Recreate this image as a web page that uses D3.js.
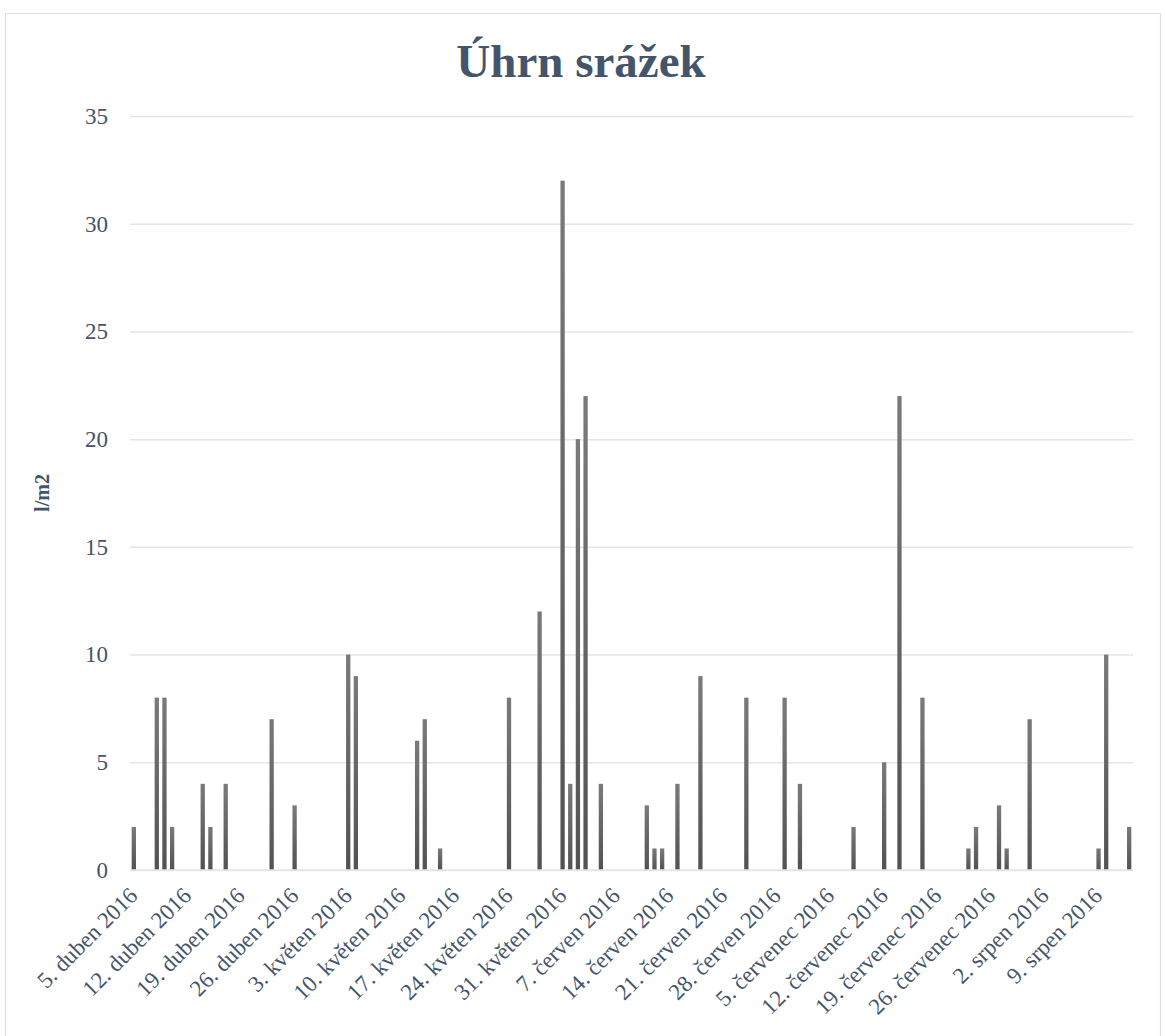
<!DOCTYPE html>
<html>
<head>
<meta charset="utf-8">
<script src="https://cdn.jsdelivr.net/npm/d3@7"></script>
<style>
  body { margin: 0; background: #fff; }
  text { font-family: "Liberation Serif", "Times New Roman", serif; }
</style>
</head>
<body>
<svg id="chart"></svg>
<script>
// srazky, denni uhrn
var startDay = "2016-04-05",
    endDay = "2016-08-13";

var rainDays = ["2016-04-05","2016-04-08","2016-04-09","2016-04-10","2016-04-14","2016-04-15","2016-04-17",
    "2016-04-23","2016-04-26","2016-05-03","2016-05-04","2016-05-12","2016-05-13","2016-05-15","2016-05-24",
    "2016-05-28","2016-05-31","2016-06-01","2016-06-02","2016-06-03","2016-06-05","2016-06-11","2016-06-12",
    "2016-06-13","2016-06-15","2016-06-18","2016-06-24","2016-06-29","2016-07-01","2016-07-08","2016-07-12",
    "2016-07-14","2016-07-17","2016-07-23","2016-07-24","2016-07-27","2016-07-28","2016-07-31","2016-08-09",
    "2016-08-10","2016-08-13"];
var rainValues = [2,8,8,2,4,2,4,
    7,3,10,9,6,7,1,8,
    12,32,4,20,22,4,3,1,
    1,4,9,8,8,4,2,5,
    22,8,1,2,3,1,7,1,
    10,2];

var yTicks = [0,5,10,15,20,25,30,35];
var monthNames = ["leden","únor","březen","duben","květen","červen","červenec","srpen","září","říjen","listopad","prosinec"];

var W = 1165, H = 1036;
var margin = {top: 116, right: 32, bottom: 166, left: 130},
    width = W - margin.left - margin.right,
    height = H - margin.top - margin.bottom;
var textColor = "#44546a", gridColor = "#e2e5ea";

var parse = d3.timeParse("%Y-%m-%d");
var allDays = d3.timeDay.range(parse(startDay), d3.timeDay.offset(parse(endDay), 1));
var rainMap = new Map(rainDays.map(function(d, i){ return [d, rainValues[i]]; }));
var fmtKey = d3.timeFormat("%Y-%m-%d");

var svg = d3.select("#chart").attr("width", W).attr("height", H);

var defs = svg.append("defs");
var grad = defs.append("linearGradient").attr("id", "barGrad")
    .attr("x1", 0).attr("y1", 0).attr("x2", 0).attr("y2", 1);
grad.append("stop").attr("offset", "0%").attr("stop-color", "#7a7a7a");
grad.append("stop").attr("offset", "100%").attr("stop-color", "#525252");

svg.append("rect")
    .attr("x", 5.5).attr("y", 13.5)
    .attr("width", W - 10).attr("height", H)
    .attr("fill", "#fff").attr("stroke", "#d9dde3");

svg.append("text")
    .attr("x", 581).attr("y", 77)
    .attr("text-anchor", "middle")
    .attr("font-size", "47px").attr("font-weight", "bold")
    .attr("fill", textColor)
    .text("Úhrn srážek");

var g = svg.append("g").attr("transform", "translate(" + margin.left + "," + margin.top + ")");

var x = d3.scaleBand()
    .domain(allDays.map(fmtKey))
    .range([0, width])
    .paddingInner(0.44)
    .paddingOuter(0.22);

var y = d3.scaleLinear().domain([0, 35]).range([height, 0]);

// mrizka
g.append("g")
    .call(d3.axisLeft(y).tickValues(yTicks).tickSize(-width).tickPadding(22))
    .call(function(a){
        a.select(".domain").remove();
        a.selectAll(".tick line").attr("stroke", gridColor).attr("stroke-width", 1.5);
        a.selectAll(".tick text").attr("fill", textColor).attr("font-size", "23px")
            .attr("font-family", "Liberation Serif, serif");
    });

g.selectAll("rect.bar")
    .data(allDays.filter(function(d){ return rainMap.has(fmtKey(d)); }))
    .enter().append("rect")
    .attr("class", "bar")
    .attr("x", function(d){ return x(fmtKey(d)); })
    .attr("width", x.bandwidth())
    .attr("y", function(d){ return y(rainMap.get(fmtKey(d))); })
    .attr("height", function(d){ return height - y(rainMap.get(fmtKey(d))); })
    .attr("fill", "url(#barGrad)");

// osa x - kazdy 7. den
var tickDays = allDays.filter(function(d, i){ return i % 7 === 0; });
var xa = g.append("g").attr("transform", "translate(0," + height + ")");
xa.append("line").attr("x1", 0).attr("x2", width).attr("y1", 0).attr("y2", 0)
    .attr("stroke", gridColor).attr("stroke-width", 1.5);

var ticks = xa.selectAll("g.xtick")
    .data(tickDays)
    .enter().append("g")
    .attr("class", "xtick")
    .attr("transform", function(d){ return "translate(" + (x(fmtKey(d)) - x.step() * 0.22 - 2) + ",0)"; });

ticks.append("line").attr("y1", 18).attr("y2", 20).attr("stroke", "#cfd3da");

ticks.append("text")
    .attr("transform", "translate(11,27) rotate(-45)")
    .attr("text-anchor", "end")
    .attr("font-size", "23px")
    .attr("fill", textColor)
    .text(function(d){ return d.getDate() + ". " + monthNames[d.getMonth()] + " " + d.getFullYear(); });

svg.append("text")
    .attr("transform", "translate(49," + (margin.top + height / 2) + ") rotate(-90)")
    .attr("text-anchor", "middle")
    .attr("font-size", "20px").attr("font-weight", "bold")
    .attr("fill", textColor)
    .text("l/m2");
</script>
</body>
</html>
